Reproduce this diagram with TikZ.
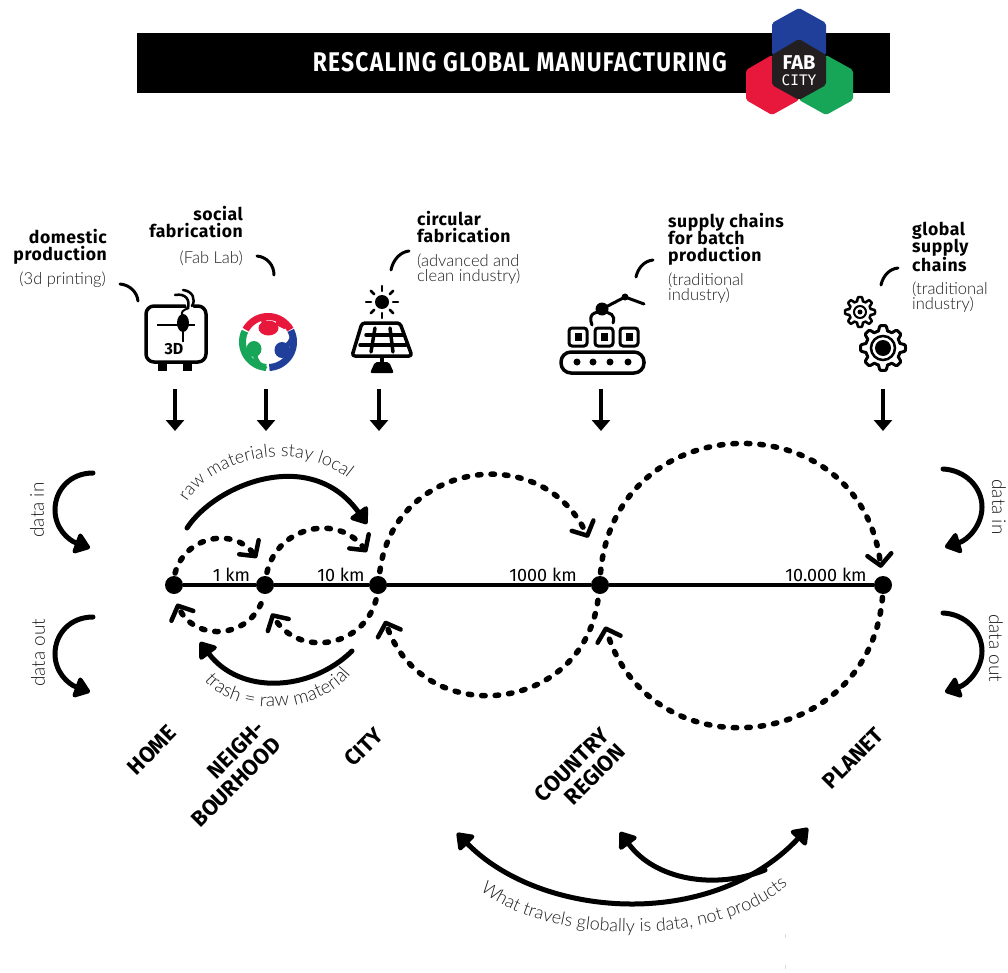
\documentclass[tikz,border=0pt]{standalone}
\usepackage{fontspec}
\usetikzlibrary{arrows.meta,decorations.text}
\setmainfont{Fira Sans}
\newfontfamily\thinf{Lato Light}
\newfontfamily\spacedf[LetterSpace=3]{Fira Sans}
\newfontfamily\headf[LetterSpace=5.5]{Fira Sans}
\newfontfamily\monof{DejaVu Sans Mono}
\newcommand\fsz[1]{\fontsize{#1}{#1}\selectfont}
\definecolor{fabblue}{HTML}{1F3F9B}
\definecolor{fabred}{HTML}{E8173C}
\definecolor{fabgreen}{HTML}{17A558}
\definecolor{fabdark}{HTML}{231F20}
\definecolor{thintext}{HTML}{1E1E1E}
\tikzset{
  sitedot/.style={circle,fill=black,inner sep=0pt,minimum size=18pt},
  mainline/.style={line width=3.5pt},
  downarrow/.style={line width=3.5pt,-{Triangle[length=11pt,width=18pt]}},
  dotarc/.style={line width=5.5pt,line cap=round,dash pattern=on 3.5pt off 10pt,
    -{Straight Barb[length=0.2pt,width=0.2pt,line width=0.05pt,sep=9pt]Straight Barb[length=11pt,width=24pt,line width=4.5pt,round]}},
  bigarrow/.style={line width=5pt,line cap=round,-{Triangle[length=17pt,width=24pt,round]}},
  leader/.style={line width=3pt,line cap=round},
  head/.style={font=\spacedf\bfseries\fsz{17.6},align=left,inner sep=0pt,text=black},
  sub/.style={font=\thinf\fsz{16.5},inner sep=0pt,text=thintext},
  place/.style={font=\bfseries\fsz{22},rotate=45,align=right,inner sep=0pt},
  km/.style={font=\fsz{18},inner sep=0pt,anchor=base},
  sidetext/.style={font=\thinf\fsz{19},inner sep=0pt,text=thintext},
  icon/.style={line width=3.5pt,line join=round,line cap=round},
  hexa/.style={rounded corners=2pt},
}
\newcommand\dashedarc[6]{%
  \pgfmathsetmacro\kk{4/3*tan((#6-#5)/4)*#4}%
  \coordinate (#1s) at ({#2+#4*cos(#5)},{#3-#4*sin(#5)});%
  \coordinate (#1e) at ({#2+#4*cos(#6)},{#3-#4*sin(#6)});%
  \draw[dotarc] (#1s) .. controls ({#2+#4*cos(#5)-\kk*sin(#5)},{#3-#4*sin(#5)-\kk*cos(#5)}) and ({#2+#4*cos(#6)+\kk*sin(#6)},{#3-#4*sin(#6)+\kk*cos(#6)}) .. (#1e);%
}
\newcommand\gearshape[5]{%
  \draw[line width=#5,line join=round,fill=white] plot[domain=0:357,samples=120,smooth] ({#1+(#3+#4*max(-1,min(1,2*cos(8*\x))))*cos(\x)},{#2+(#3+#4*max(-1,min(1,2*cos(8*\x))))*sin(\x)}) -- cycle;%
}
\begin{document}
\begin{tikzpicture}[x=1pt,y=-1pt]
\useasboundingbox (0,0) rectangle (1008,973);
% header
\fill[black] (137,33) rectangle (890,93);
\node[font=\headf\bfseries\fsz{27},text=white,anchor=base east,inner sep=0pt] (title) at (727,72) {\scalebox{0.845}[1]{RESCALING GLOBAL MANUFACTURING}};
\fill[fabblue,hexa] (799,8) -- (826,23) -- (826,55) -- (799,70) -- (772,55) -- (772,23) -- cycle;
\fill[fabred,hexa] (772,55) -- (799,70) -- (799,100) -- (772,115) -- (746,100) -- (746,70) -- cycle;
\fill[fabgreen,hexa] (826,55) -- (853,70) -- (853,100) -- (826,115) -- (799,100) -- (799,70) -- cycle;
\fill[fabdark,hexa] (799,39) -- (826,55) -- (826,85) -- (799,100) -- (772,85) -- (772,55) -- cycle;
\node[font=\bfseries\fsz{20},text=white,inner sep=0pt] (fab) at (799,63) {FAB};
\node[font=\monof\fsz{14.5},text=white,inner sep=0pt] (cityword) at (799,80) {CITY};
% top labels
\node[head,align=right,anchor=north east] (l1) at (107,229) {domestic\\[-0.5pt]production};
\node[sub,anchor=east] (l1s) at (106,280) {(3d printing)};
\node[head,align=right,anchor=north east] (l2) at (243,206) {social\\[-0.5pt]fabrication};
\node[sub,anchor=east] (l2s) at (243,258) {(Fab Lab)};
\node[head,anchor=north west] (l3) at (417,211) {circular\\[-0.5pt]fabrication};
\node[sub,anchor=north west,align=left] (l3s) at (417,254) {(advanced and\\[-2pt]clean industry)};
\node[head,anchor=north west] (l4) at (668,213) {supply chains\\[-0.5pt]for batch\\[-0.5pt]production};
\node[sub,anchor=north west,align=left] (l4s) at (668,273) {(traditional\\[-2pt]industry)};
\node[head,anchor=north west] (l5) at (912,222) {global\\[-0.5pt]supply\\[-0.5pt]chains};
\node[sub,anchor=north west,align=left] (l5s) at (912,282) {(traditional\\[-2pt]industry)};
% leaders
\coordinate (a1) at (120,284); \coordinate (a2) at (138,301);
\draw[leader] (a1) .. controls (130,285) and (137,292) .. (a2);
\coordinate (b1) at (257,256); \coordinate (b2) at (274,275);
\draw[leader] (b1) .. controls (267,257) and (274,265) .. (b2);
\coordinate (c1) at (391,270); \coordinate (c2) at (409,251);
\draw[leader] (c1) .. controls (393,260) and (400,252) .. (c2);
\coordinate (d1) at (636,277); \coordinate (d2) at (653,260);
\draw[leader] (d1) .. controls (638,268) and (644,261) .. (d2);
\coordinate (e1) at (881,285); \coordinate (e2) at (898,268);
\draw[leader] (e1) .. controls (883,276) and (889,269) .. (e2);
% printer icon
\draw[icon,rounded corners=8pt] (146,306) rectangle (206,362);
\fill (158,362) rectangle (167,371);
\fill (183,362) rectangle (192,371);
\draw[line width=6pt,white] (187,299) -- (191,310);
\draw[line width=2.5pt,line cap=round] (175,295) .. controls (186,293) and (190,300) .. (188,308);
\draw[line width=2.5pt,line cap=round] (183,290) .. controls (193,291) and (196,300) .. (192,306);
\draw[line width=2.5pt] (157,325) -- (195,325);
\fill (183,323) ellipse [x radius=6,y radius=9];
\draw[line width=2pt] (183,330) -- (183,342);
\draw[line width=2pt] (189,308) .. controls (183,310) and (180,312) .. (183,316);
\node[font=\bfseries\fsz{16},inner sep=0pt] (td) at (174,349) {3D};
% fab lab icon
\begin{scope}[line width=7pt]
\draw[fabred] plot[domain=151:29,samples=30] ({268+25.5*cos(\x)},{342-25.5*sin(\x)});
\draw[fabgreen] plot[domain=155:266,samples=30] ({268+25.5*cos(\x)},{342-25.5*sin(\x)});
\draw[fabblue] plot[domain=27:-87,samples=30] ({268+25.5*cos(\x)},{342-25.5*sin(\x)});
\end{scope}
\fill[fabred] (268.5,328) ellipse [x radius=10,y radius=7.5];
\draw[fabred,line width=5pt] (262,317) -- (266,326);
\fill[fabred] (276,316) -- (292,325) -- (284,329) -- (276,325) -- cycle;
\fill[fabgreen] (254,349) ellipse [x radius=7.5,y radius=8];
\draw[fabgreen,line width=4.5pt] (255,353) .. controls (256,364) and (260,364) .. (266,369);
\fill[fabblue] (282,350) ellipse [x radius=7.5,y radius=8];
\draw[fabblue,line width=5pt] (284,347) .. controls (289,345) and (291,342) .. (293,335);
% solar icon
\fill (382,302) circle [radius=7];
\foreach \r in {0,45,...,315}{
  \draw[line width=2.5pt,line cap=round] ({382+11*cos(\r)},{302+11*sin(\r)}) -- ({382+16*cos(\r)},{302+16*sin(\r)});
}
\draw[icon,rounded corners=3pt] (362,323) -- (400,323) -- (412,356) -- (352,356) -- cycle;
\draw[icon] (366,335) -- (403,335);
\draw[icon] (360,345) -- (406,345);
\draw[icon] (375,328) -- (371,352);
\draw[icon] (390,328) -- (393,352);
\draw[icon] (382,357) -- (382,364);
\fill[rounded corners=2pt] (375,362) -- (389,362) -- (394,373) -- (370,373) -- cycle;
% conveyor icon
\draw[icon,rounded corners=10pt] (561,352) rectangle (644,373);
\foreach \x in {577,593,610,628}{\fill (\x,362) circle [radius=3.5];}
\foreach \x in {569,595,620}{
  \draw[line width=3pt,rounded corners=3pt] (\x,328) rectangle +(18,18);
  \fill (\x+5.5,333) rectangle +(7.5,8);
}
\draw[line width=3pt,line cap=round] (592,325) .. controls (588,314) and (594,312) .. (602,312) .. controls (610,312) and (616,315) .. (613,323);
\draw[line width=3pt,line cap=round] (602,309) -- (625,297) -- (644,304);
\fill (602,309) circle [radius=6.5];
\fill (625,297) circle [radius=3.5];
% gears icon
\gearshape{860}{312}{13}{2}{2.5pt}
\draw[line width=2pt] (860,312) circle [radius=6];
\fill (860,312) circle [radius=2.5];
\gearshape{883}{348}{20}{2.5}{3pt}
\draw[line width=2.5pt] (883,348) circle [radius=12];
\fill (883,348) circle [radius=8];
% down arrows
\foreach \n/\x in {p/175,q/266,r/379,s/601,t/883}{
  \coordinate (\n1) at (\x,389); \coordinate (\n2) at (\x,431);
  \draw[downarrow] (\n1) -- (\n2);
}
% data arrows
\coordinate (dl1) at (93,473); \coordinate (dl2) at (90,548);
\draw[bigarrow] (dl1) .. controls (70,473) and (55,490) .. (55,510) .. controls (55,528) and (68,540) .. (dl2);
\coordinate (dl3) at (93,617); \coordinate (dl4) at (90,692);
\draw[bigarrow] (dl3) .. controls (70,617) and (55,634) .. (55,654) .. controls (55,672) and (68,684) .. (dl4);
\coordinate (dr1) at (943,469); \coordinate (dr2) at (945,547);
\draw[bigarrow] (dr1) .. controls (965,470) and (982,487) .. (982,507) .. controls (982,525) and (968,540) .. (dr2);
\coordinate (dr3) at (943,613); \coordinate (dr4) at (945,692);
\draw[bigarrow] (dr3) .. controls (965,614) and (982,631) .. (982,651) .. controls (982,669) and (968,684) .. (dr4);
\node[sidetext,rotate=90] (di1) at (37,510) {data in};
\node[sidetext,rotate=90] (do1) at (38,653) {data out};
\node[sidetext,rotate=-90] (di2) at (999,507) {data in};
\node[sidetext,rotate=-90] (do2) at (996,648) {data out};
% dashed arcs
\dashedarc{u1}{219.5}{585}{46}{165}{36}
\dashedarc{u2}{321.5}{585}{56}{167}{36}
\dashedarc{u3}{489}{585}{110}{173}{25.5}
\dashedarc{u4}{741}{585}{141}{175}{7}
\dashedarc{v1}{219}{585}{46}{-24}{-156}
\dashedarc{v2}{321}{585}{57}{-15}{-150}
\dashedarc{v3}{489}{585}{110}{-8}{-161}
\dashedarc{v4}{741}{585}{142}{-5}{-163}
% main line
\node[sitedot] (home) at (174,585) {};
\node[sitedot] (nbh) at (265,585) {};
\node[sitedot] (city) at (378,585) {};
\node[sitedot] (country) at (600,585) {};
\node[sitedot] (planet) at (883,585) {};
\draw[mainline] (home) -- (nbh) -- (city) -- (country) -- (planet);
\node[km] (k1) at (231.5,581) {1 km};
\node[km] (k2) at (341,581) {10 km};
\node[km] (k3) at (543,581) {1000 km};
\node[km] (k4) at (826,581) {10.000 km};
% solid arrows
\coordinate (rm1) at (187,528); \coordinate (rm2) at (367,524);
\draw[bigarrow] (rm1) .. controls (215,485) and (310,445) .. (rm2);
\coordinate (tr1) at (352,651); \coordinate (tr2) at (200,642);
\draw[bigarrow] (tr1) .. controls (310,692) and (240,695) .. (tr2);
\coordinate (g1) at (457,833); \coordinate (g2) at (808,828); \coordinate (g3) at (620,832); \coordinate (g4) at (765,870);
\draw[bigarrow,{Triangle[length=17pt,width=24pt,round]}-{Triangle[length=17pt,width=24pt,round]}] (g1) .. controls (540,918) and (710,932) .. (g2);
\draw[bigarrow,{Triangle[length=17pt,width=24pt,round]}-] (g3) .. controls (655,880) and (715,890) .. (g4);
% curved labels
\path[decorate,decoration={text along path,text align=center,text={|\thinf\fsz{18}\color{thintext}|raw materials stay local}}] (182,510) .. controls (210,452) and (310,438) .. (355,485);
\path[decorate,decoration={text along path,text align=center,text={|\thinf\fsz{19}\color{thintext}|trash = raw material}}] (201,676) .. controls (230,718) and (320,718) .. (354,670);
\path[decorate,decoration={text along path,text align=center,text={|\thinf\fsz{18}\color{thintext}|What travels globally is data, not products}}] (478,888) .. controls (540,945) and (720,950) .. (790,883);
% place names
\node[place] (n1) at (152,750) {HOME};
\node[place] (n2) at (228,774) {NEIGH-\\[1pt]BOURHOOD};
\node[place] (n3) at (364,747) {CITY};
\node[place] (n4) at (580,773) {COUNTRY\\[1pt]REGION};
\node[place] (n5) at (853,758) {PLANET};
% faint marks
\draw[black!15,line width=0.8pt] (785,934) -- (785,938);
\draw[black!15,line width=0.8pt] (785,965) -- (785,969);
\end{tikzpicture}
\end{document}
